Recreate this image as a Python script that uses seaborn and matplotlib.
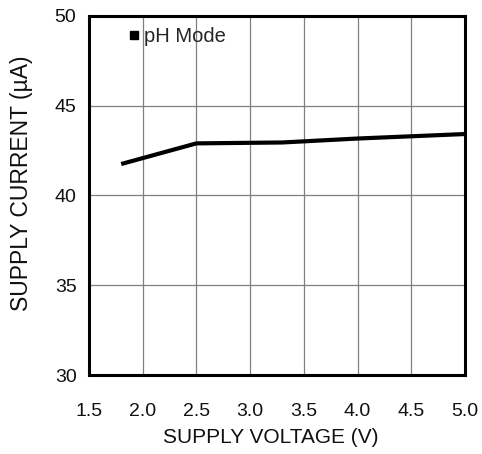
import matplotlib
matplotlib.use("Agg")
import matplotlib.pyplot as plt
import pandas as pd
import seaborn as sns
from matplotlib.lines import Line2D

# Supply current vs supply voltage, pH mode
supply_voltage = [1.8, 2.5, 3.3, 4.0, 5.0]
supply_current = [41.75, 42.9, 42.95, 43.17, 43.42]
x_ticks = [1.5, 2.0, 2.5, 3.0, 3.5, 4.0, 4.5, 5.0]
y_ticks = [30, 35, 40, 45, 50]

sns.set_theme(style="white")
plt.rcParams["font.family"] = ["Liberation Sans", "DejaVu Sans"]

df = pd.DataFrame({"voltage": supply_voltage, "current": supply_current})

fig = plt.figure(figsize=(4.82, 4.54), dpi=100)
ax = fig.add_axes([0.1846, 0.174, 0.780, 0.791])

sns.lineplot(data=df, x="voltage", y="current", ax=ax, color="black",
             linewidth=3.0, solid_capstyle="butt")

ax.set_xlim(1.5, 5.0)
ax.set_ylim(30, 50)
ax.set_xticks(x_ticks)
ax.set_xticklabels([f"{v:.1f}" for v in x_ticks])
ax.set_yticks(y_ticks)
ax.set_yticklabels([str(v) for v in y_ticks])
ax.grid(True, color="#808080", linewidth=0.9)
ax.tick_params(axis="both", length=0, labelsize=14, colors="#111111")
ax.tick_params(axis="x", pad=20)
ax.tick_params(axis="y", pad=9)

for s in ax.spines.values():
    s.set_visible(True)
    s.set_color("black")
    s.set_linewidth(2.2)

ax.set_xlabel("SUPPLY VOLTAGE (V)", fontsize=15, color="#111111")
ax.set_ylabel("SUPPLY CURRENT (µA)", fontsize=16.5, color="#111111")
ax.xaxis.set_label_coords(0.483, -0.148)
ax.yaxis.set_label_coords(-0.149, 0.533)

handle = Line2D([], [], marker="s", linestyle="none", color="black", markersize=6)
ax.legend([handle], ["pH Mode"], loc="upper left", bbox_to_anchor=(0.063, 1.0),
          frameon=False, fontsize=14.5, handletextpad=0.0, handlelength=1.0,
          borderaxespad=0.15)

fig.savefig("out.png", dpi=100)
